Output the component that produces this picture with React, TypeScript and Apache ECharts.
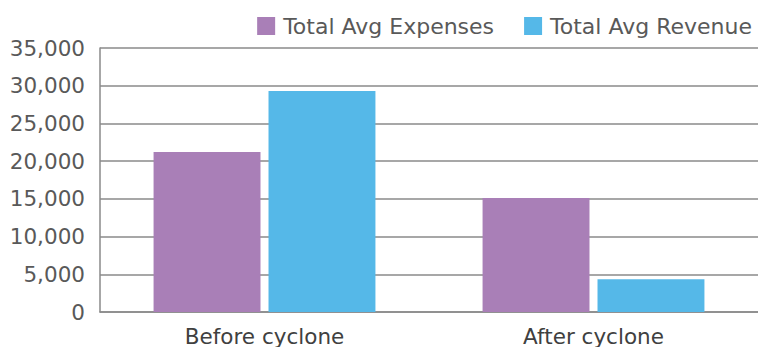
import React, { useEffect, useRef } from "react";
import * as echarts from "echarts";

const categories = ["Before cyclone", "After cyclone"];
const seriesNames = ["Total Avg Expenses", "Total Avg Revenue"];
const expenses = [21200, 15100];
const revenue = [29300, 4350];
const yMax = 35000;
const yStep = 5000;

const FONT = "DejaVu Sans";

export default function App() {
  const ref = useRef<HTMLDivElement>(null);

  useEffect(() => {
    if (!ref.current) return;
    const chart = echarts.init(ref.current, undefined, { renderer: "svg" });
    chart.setOption({
      animation: false,
      backgroundColor: "#ffffff",
      legend: {
        right: 1,
        top: 10,
        itemWidth: 18,
        itemHeight: 18,
        itemGap: 30,
        icon: "rect",
        textStyle: {
          fontFamily: FONT,
          fontSize: 22,
          color: "#595959",
          padding: [0, 0, 0, 3],
        },
        data: seriesNames,
      },
      grid: { left: 100, right: 0, top: 48, bottom: 34 },
      xAxis: {
        type: "category",
        data: categories,
        axisLine: { show: true, lineStyle: { color: "#8a8a8a", width: 1.5 } },
        axisTick: { show: false },
        axisLabel: {
          fontFamily: FONT,
          fontSize: 21.5,
          color: "#404040",
          margin: 13,
        },
      },
      yAxis: {
        type: "value",
        min: 0,
        max: yMax,
        interval: yStep,
        axisLine: { show: true, lineStyle: { color: "#8a8a8a", width: 1.5 } },
        axisTick: { show: false },
        splitLine: { lineStyle: { color: "#8a8a8a", width: 1.5 } },
        axisLabel: {
          fontFamily: FONT,
          fontSize: 21.5,
          color: "#595959",
          margin: 15,
          formatter: (v: number) => v.toLocaleString("en-US"),
        },
      },
      series: [
        {
          name: seriesNames[0],
          type: "bar",
          data: expenses,
          barWidth: "32.5%",
          barGap: "7.5%",
          itemStyle: { color: "#a97fb7" },
        },
        {
          name: seriesNames[1],
          type: "bar",
          data: revenue,
          barWidth: "32.5%",
          itemStyle: { color: "#55b8e8" },
        },
      ],
    });
    return () => chart.dispose();
  }, []);

  return (
    <div
      ref={ref}
      style={{ position: "fixed", left: 0, top: 0, width: 758, height: 347 }}
    />
  );
}
